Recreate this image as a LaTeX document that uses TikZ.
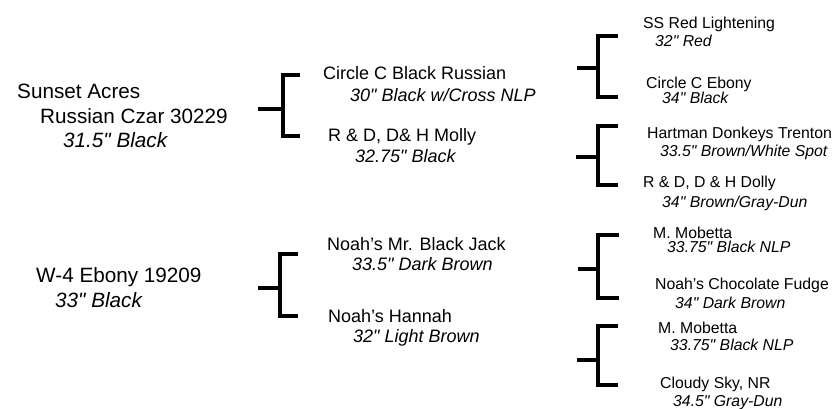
\documentclass[tikz,border=0pt]{standalone}
\usepackage{fontspec}
\setmainfont{Liberation Sans}
\usepackage{tikz}
\newcommand{\inch}{\textquotedbl}
\tikzstyle{pedigree_text} = [anchor = base west, inner sep = 0]
\tikzstyle{pedigree_name_1} = [pedigree_text, font = \fontsize{20.7}{24}\selectfont]
\tikzstyle{pedigree_size_1} = [pedigree_text, font = \fontsize{20.7}{24}\selectfont\itshape]
\tikzstyle{pedigree_name_2} = [pedigree_text, font = \fontsize{18}{21}\selectfont]
\tikzstyle{pedigree_size_2} = [pedigree_text, font = \fontsize{18}{21}\selectfont\itshape]
\tikzstyle{pedigree_name_3} = [pedigree_text, font = \fontsize{15.8}{18}\selectfont]
\tikzstyle{pedigree_size_3} = [pedigree_text, font = \fontsize{15.8}{18}\selectfont\itshape]
\tikzstyle{pedigree_bracket} = [line width = 3.6, line join = miter]

\begin{document}
\begin{tikzpicture}[x = 1pt, y = -1pt]
        \useasboundingbox (0, 0) rectangle (838, 409);
        \node [style = {pedigree_name_1}] (czar_line1) at (17, 99) {Sunset Acres};
        \node [style = {pedigree_name_1}] (czar_line2) at (40, 124) {Russian Czar 30229};
        \node [style = {pedigree_size_1}] (czar_size) at (63, 148) {31.5\inch{} Black};
        \node [style = {pedigree_name_1}] (w4_ebony) at (36, 282) {W-4 Ebony 19209};
        \node [style = {pedigree_size_1}] (w4_ebony_size) at (55, 307) {33\inch{} Black};

        \node [style = {pedigree_name_2}] (circle_russian) at (323, 80) {Circle C Black Russian};
        \node [style = {pedigree_size_2}] (circle_russian_size) at (350, 102) {30\inch{} Black w/Cross NLP};
        \node [style = {pedigree_name_2}] (molly) at (328, 142) {R \& D, D\& H Molly};
        \node [style = {pedigree_size_2}] (molly_size) at (355, 162) {32.75\inch{} Black};
        \node [style = {pedigree_name_2}] (black_jack) at (327, 250) {Noah's Mr. Black Jack};
        \node [style = {pedigree_size_2}] (black_jack_size) at (352, 270) {33.5\inch{} Dark Brown};
        \node [style = {pedigree_name_2}] (hannah) at (328, 322) {Noah's Hannah};
        \node [style = {pedigree_size_2}] (hannah_size) at (353, 342) {32\inch{} Light Brown};

        \node [style = {pedigree_name_3}] (lightening) at (643, 29) {SS Red Lightening};
        \node [style = {pedigree_size_3}] (lightening_size) at (655, 47) {32\inch{} Red};
        \node [style = {pedigree_name_3}] (circle_ebony) at (646, 89) {Circle C Ebony};
        \node [style = {pedigree_size_3}] (circle_ebony_size) at (662, 104) {34\inch{} Black};
        \node [style = {pedigree_name_3}] (trenton) at (647, 139) {Hartman Donkeys Trenton};
        \node [style = {pedigree_size_3}] (trenton_size) at (660, 157) {33.5\inch{} Brown/White Spot};
        \node [style = {pedigree_name_3}] (dolly) at (643, 187) {R \& D, D \& H Dolly};
        \node [style = {pedigree_size_3}] (dolly_size) at (662, 207) {34\inch{} Brown/Gray-Dun};
        \node [style = {pedigree_name_3}] (mobetta_a) at (653, 238) {M. Mobetta};
        \node [style = {pedigree_size_3}] (mobetta_a_size) at (667, 252) {33.75\inch{} Black NLP};
        \node [style = {pedigree_name_3}] (fudge) at (655, 289) {Noah's Chocolate Fudge};
        \node [style = {pedigree_size_3}] (fudge_size) at (675, 308) {34\inch{} Dark Brown};
        \node [style = {pedigree_name_3}] (mobetta_b) at (658, 333) {M. Mobetta};
        \node [style = {pedigree_size_3}] (mobetta_b_size) at (670, 350) {33.75\inch{} Black NLP};
        \node [style = {pedigree_name_3}] (cloudy_sky) at (660, 388) {Cloudy Sky, NR};
        \node [style = {pedigree_size_3}] (cloudy_sky_size) at (673, 406) {34.5\inch{} Gray-Dun};

        \coordinate (czar_stub) at (258, 109);
        \coordinate (czar_fork) at (283, 109);
        \coordinate (czar_sire) at (300, 75);
        \coordinate (czar_dam) at (300, 136);
        \coordinate (w4_stub) at (258, 288);
        \coordinate (w4_fork) at (280, 288);
        \coordinate (w4_sire) at (298, 254);
        \coordinate (w4_dam) at (298, 316);
        \coordinate (russian_stub) at (577, 68);
        \coordinate (russian_fork) at (598, 68);
        \coordinate (russian_sire) at (618, 36);
        \coordinate (russian_dam) at (618, 97);
        \coordinate (molly_stub) at (576, 157);
        \coordinate (molly_fork) at (598, 157);
        \coordinate (molly_sire) at (618, 126);
        \coordinate (molly_dam) at (618, 185);
        \coordinate (jack_stub) at (578, 269);
        \coordinate (jack_fork) at (598, 269);
        \coordinate (jack_sire) at (619, 235);
        \coordinate (jack_dam) at (619, 298);
        \coordinate (hannah_stub) at (577, 360);
        \coordinate (hannah_fork) at (598, 360);
        \coordinate (hannah_sire) at (618, 326);
        \coordinate (hannah_dam) at (618, 385);

        \foreach \parent in {czar, w4, russian, molly, jack, hannah} {
            \draw [style = {pedigree_bracket}] (\parent_sire) -| (\parent_fork) |- (\parent_dam);
            \draw [style = {pedigree_bracket}] (\parent_stub) -- (\parent_fork);
        }
    \end{tikzpicture}
\end{document}
